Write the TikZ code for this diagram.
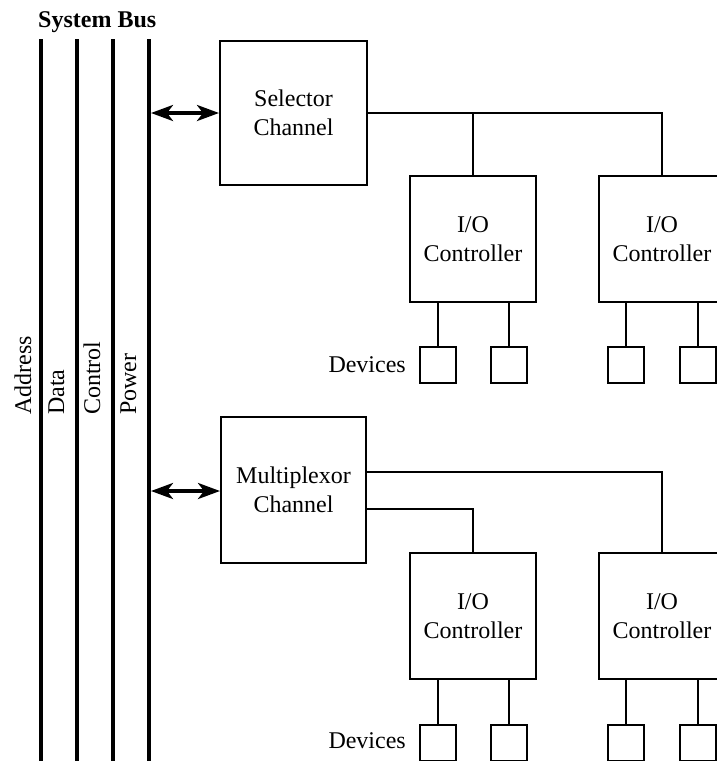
\documentclass[tikz,border=0pt]{standalone}
\usepackage{fontspec}
\setmainfont{Liberation Serif}
\usetikzlibrary{arrows.meta}
\begin{document}
\begin{tikzpicture}[x=1pt,y=-1pt,
  box/.style={draw,line width=2pt,align=center,inner sep=0pt,font=\fontsize{24}{29}\selectfont},
  dev/.style={draw,line width=2pt,minimum size=36pt,inner sep=0pt},
  wire/.style={line width=2pt},
  bus/.style={line width=4pt},
  lbl/.style={font=\fontsize{24}{29}\selectfont,inner sep=0pt},
  buslbl/.style={lbl,rotate=90,anchor=base west},
  biarrow/.style={line width=3.5pt,{Stealth[length=22pt,width=16pt,inset=6pt]}-{Stealth[length=22pt,width=16pt,inset=6pt]}}
]
\useasboundingbox (0,0) rectangle (717,761);
\clip (0,0) rectangle (717,761);

% title
\node[lbl,font=\bfseries\fontsize{24}{29}\selectfont,anchor=base west] (title) at (38,27) {System Bus};

% bus lines
\foreach \n/\x in {1/41,2/77,3/113,4/149}{
  \coordinate (bt\n) at (\x,39);
  \coordinate (bb\n) at (\x,761);
  \draw[bus] (bt\n) -- (bb\n);
}
\node[buslbl] (laddr) at (31,415) {Address};
\node[buslbl] (ldata) at (64,415) {Data};
\node[buslbl] (lctrl) at (100,415) {Control};
\node[buslbl] (lpow) at (136,415) {Power};

% channels
\node[box,minimum width=147pt,minimum height=144pt] (sel) at (293.5,113) {Selector\\Channel};
\node[box,minimum width=145pt,minimum height=146pt] (mux) at (293.5,490) {Multiplexor\\Channel};

\coordinate (s1) at (151,113);
\coordinate (s2) at (151,491);
\draw[biarrow] (s1) -- (sel.west |- s1);
\draw[biarrow] (s2) -- (mux.west |- s2);

% I/O controllers
\node[box,minimum width=126pt,minimum height=126pt] (io1) at (473,239) {I/O\\Controller};
\node[box,minimum width=126pt,minimum height=126pt] (io2) at (662,239) {I/O\\Controller};
\node[box,minimum width=126pt,minimum height=126pt] (io3) at (473,616) {I/O\\Controller};
\node[box,minimum width=126pt,minimum height=126pt] (io4) at (662,616) {I/O\\Controller};

% selector connections
\draw[wire] (sel.east) -- (io2.north |- sel.east) -- (io2.north);
\draw[wire] (io1.north |- sel.east) -- (io1.north);

% multiplexor connections
\coordinate (m1) at (366,472);
\coordinate (m2) at (366,509);
\draw[wire] (m1) -- (io4.north |- m1) -- (io4.north);
\draw[wire] (m2) -- (io3.north |- m2) -- (io3.north);

% devices
\foreach \d/\x/\y/\io in {a/437.5/365/io1, b/509/365/io1, c/625.5/365/io2, d/697.5/365/io2,
                          e/437.5/743/io3, f/509/743/io3, g/625.5/743/io4, h/697.5/743/io4}{
  \node[dev] (dv\d) at (\x,\y) {};
  \draw[wire] (dv\d.north) -- (dv\d.north |- \io.south);
}

\node[lbl,anchor=east] (devl1) at (406,365) {Devices};
\node[lbl,anchor=east] (devl2) at (406,741) {Devices};
\end{tikzpicture}
\end{document}
